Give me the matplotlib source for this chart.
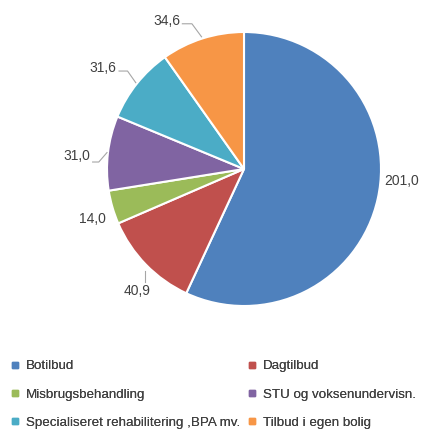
import matplotlib
matplotlib.use("Agg")
import matplotlib.pyplot as plt
from matplotlib.lines import Line2D

plt.rcParams["font.family"] = ["Liberation Sans", "DejaVu Sans"]

categories = ["Botilbud", "Dagtilbud", "Misbrugsbehandling", "STU og voksenundervisn.",
              "Specialiseret rehabilitering ,BPA mv.", "Tilbud i egen bolig"]
values = [201.0, 40.9, 14.0, 31.0, 31.6, 34.6]
value_labels = ["201,0", "40,9", "14,0", "31,0", "31,6", "34,6"]
colors = ["#4F81BD", "#C0504D", "#9BBB59", "#8064A2", "#4BACC6", "#F79646"]

W, H = 422, 432
fig = plt.figure(figsize=(W / 100, H / 100), dpi=100)

# pie centre (244, 169) px, radius 137 px
cx, cy, r = 244, 169, 137
ax = fig.add_axes([(cx - r) / W, (H - cy - r) / H, 2 * r / W, 2 * r / H])
wedges, _ = ax.pie(values, colors=colors, startangle=90, counterclock=False,
                   wedgeprops=dict(edgecolor="white", linewidth=1.5))
ax.set_xlim(-1, 1); ax.set_ylim(-1, 1)
ax.set_aspect("equal")
ax.axis("off")

# label positions (in pie radii) and leader lines
text_pos = [(1.153, -0.088), (-0.781, -0.891), (-1.109, -0.365),
            (-1.219, 0.095), (-1.029, 0.737), (-0.562, 1.080)]
leaders = [None, [(-0.723, -0.825), (-0.723, -0.745)], None,
           [(-1.105, 0.051), (-1.06, 0.051), (-1.0, 0.12)],
           [(-0.912, 0.715), (-0.85, 0.715), (-0.79, 0.63)],
           [(-0.45, 1.06), (-0.38, 1.06), (-0.31, 0.965)]]
for lab, (tx, ty), ld in zip(value_labels, text_pos, leaders):
    ax.text(tx, ty, lab, ha="center", va="center", fontsize=10,
            color="#404040", clip_on=False)
    if ld:
        xs, ys = zip(*ld)
        ax.plot(xs, ys, color="#a6a6a6", lw=0.8, clip_on=False)

handles = [Line2D([], [], marker="s", ls="", markersize=4.5, color=c) for c in colors]
legend_kw = dict(loc="upper left", frameon=False, fontsize=9.6, labelcolor="#404040",
                 handlelength=0.6, handletextpad=0.5, labelspacing=1.19,
                 borderaxespad=0.0, borderpad=0.0)
for col, x0 in ((0, 11), (1, 248)):
    idx = [col, col + 2, col + 4]
    leg = fig.legend([handles[i] for i in idx], [categories[i] for i in idx],
                     bbox_to_anchor=(x0 / W, (H - 360) / H), **legend_kw)
    fig.add_artist(leg)

fig.savefig("out.png", dpi=100)
